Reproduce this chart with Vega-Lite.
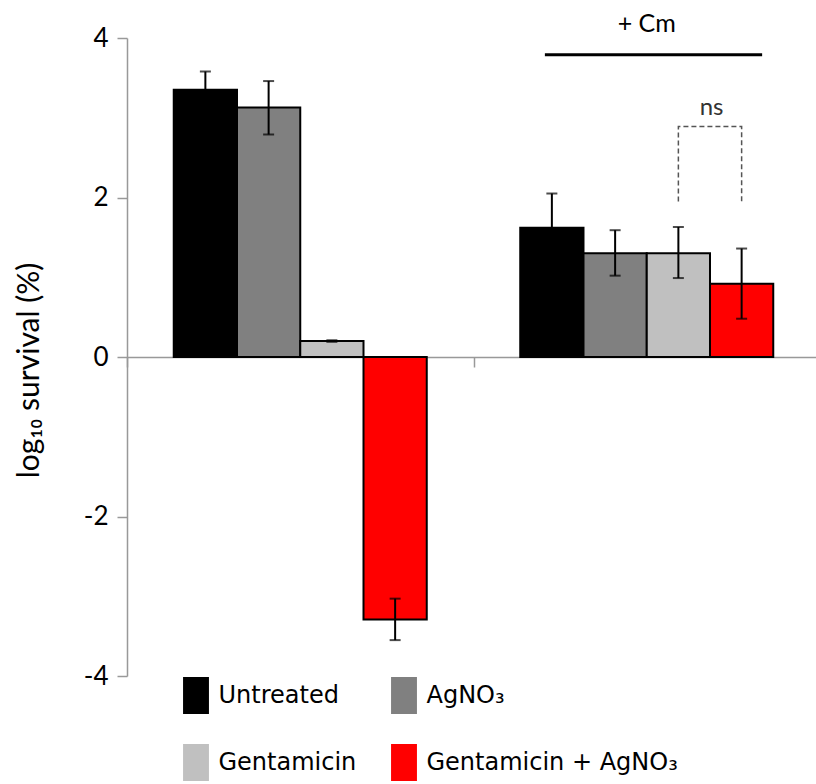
{
  "$schema": "https://vega.github.io/schema/vega-lite/v6.json",
  "width": 689,
  "height": 638,
  "autosize": "none",
  "padding": {"left": 127, "top": 38, "right": 0, "bottom": 108},
  "config": {"view": {"stroke": null}, "font": "Lato"},
  "datasets": {
    "bars": [
      {"group": "no Cm", "treatment": "Untreated", "value": 3.35, "lo": 3.12, "hi": 3.58},
      {"group": "no Cm", "treatment": "AgNO₃", "value": 3.13, "lo": 2.79, "hi": 3.46},
      {"group": "no Cm", "treatment": "Gentamicin", "value": 0.2, "lo": 0.19, "hi": 0.21},
      {"group": "no Cm", "treatment": "Gentamicin + AgNO₃", "value": -3.29, "lo": -3.55, "hi": -3.03},
      {"group": "+ Cm", "treatment": "Untreated", "value": 1.62, "lo": 1.19, "hi": 2.05},
      {"group": "+ Cm", "treatment": "AgNO₃", "value": 1.3, "lo": 1.02, "hi": 1.59},
      {"group": "+ Cm", "treatment": "Gentamicin", "value": 1.3, "lo": 0.99, "hi": 1.63},
      {"group": "+ Cm", "treatment": "Gentamicin + AgNO₃", "value": 0.92, "lo": 0.48, "hi": 1.36}
    ],
    "bracket": [
      {"group": "+ Cm", "treatment": "Gentamicin", "y": 1.95, "k": 1},
      {"group": "+ Cm", "treatment": "Gentamicin", "y": 2.89, "k": 2},
      {"group": "+ Cm", "treatment": "Gentamicin + AgNO₃", "y": 2.89, "k": 3},
      {"group": "+ Cm", "treatment": "Gentamicin + AgNO₃", "y": 1.95, "k": 4}
    ]
  },
  "encoding": {
    "x": {
      "field": "group", "type": "nominal", "sort": ["no Cm", "+ Cm"],
      "scale": {"range": [0, 693], "paddingInner": 0, "paddingOuter": 0},
      "axis": {"orient": "bottom", "offset": -319, "title": null, "labels": false, "tickBand": "extent", "tickSize": 10, "tickColor": "#999999", "tickWidth": 1.5, "domainColor": "#999999", "domainWidth": 1.5, "grid": false}
    },
    "xOffset": {
      "field": "treatment", "type": "nominal",
      "sort": ["Untreated", "AgNO₃", "Gentamicin", "Gentamicin + AgNO₃"],
      "scale": {"paddingOuter": 0.739, "paddingInner": 0}
    }
  },
  "layer": [
    {
      "data": {"name": "bars"},
      "mark": {"type": "bar", "stroke": "#000000", "strokeWidth": 2},
      "encoding": {
        "y": {
          "field": "value", "type": "quantitative",
          "scale": {"domain": [-4, 4], "nice": false},
          "axis": {"values": [-4, -2, 0, 2, 4], "labelExpr": "'' + datum.value", "title": "log₁₀ survival (%)", "grid": false, "tickSize": 10, "tickColor": "#999999", "tickWidth": 1.5, "domainColor": "#999999", "domainWidth": 1.5, "labelFontSize": 26, "labelColor": "#000000", "labelPadding": 9, "titleFontSize": 30, "titleFontWeight": "normal", "titleColor": "#000000", "titleX": -83, "titleY": 332}
        },
        "color": {
          "field": "treatment", "type": "nominal",
          "scale": {"domain": ["Untreated", "AgNO₃", "Gentamicin", "Gentamicin + AgNO₃"], "range": ["#000000", "#808080", "#c0c0c0", "#ff0000"]},
          "legend": {"orient": "none", "direction": "horizontal", "legendX": 50.5, "legendY": 639, "columns": 2, "title": null, "symbolType": "M-0.7,-1H0.7V1H-0.7Z", "symbolSize": 1369, "symbolStrokeWidth": 0, "symbolOpacity": 1, "labelFontSize": 24, "labelFont": "DejaVu Sans", "labelColor": "#000000", "labelOffset": 4, "rowPadding": 30, "columnPadding": 29, "labelLimit": 400}
        }
      }
    },
    {
      "data": {"name": "bars"},
      "mark": {"type": "rule", "color": "#000000", "strokeWidth": 2},
      "encoding": {"y": {"field": "lo", "type": "quantitative"}, "y2": {"field": "hi"}}
    },
    {
      "data": {"name": "bars"},
      "mark": {"type": "tick", "color": "#000000", "thickness": 2, "size": 11},
      "encoding": {"y": {"field": "lo", "type": "quantitative"}}
    },
    {
      "data": {"name": "bars"},
      "mark": {"type": "tick", "color": "#000000", "thickness": 2, "size": 11},
      "encoding": {"y": {"field": "hi", "type": "quantitative"}}
    },
    {
      "data": {"name": "bracket"},
      "mark": {"type": "line", "color": "#555555", "strokeWidth": 1.5, "strokeDash": [5, 3]},
      "encoding": {"y": {"field": "y", "type": "quantitative"}, "order": {"field": "k", "type": "quantitative"}}
    },
    {
      "data": {"values": [{}]},
      "mark": {"type": "rule", "color": "#000000", "strokeWidth": 3},
      "encoding": {
        "x": {"datum": "+ Cm", "bandPosition": 0.206},
        "x2": {"datum": "+ Cm", "bandPosition": 0.833},
        "xOffset": null,
        "y": {"datum": 3.79}
      }
    },
    {
      "data": {"values": [{}]},
      "mark": {"type": "text", "fontSize": 25, "color": "#000000"},
      "encoding": {
        "x": {"datum": "+ Cm", "bandPosition": 0.5},
        "xOffset": null,
        "y": {"datum": 4.18},
        "text": {"value": "+ Cm"}
      }
    },
    {
      "data": {"values": [{}]},
      "mark": {"type": "text", "fontSize": 24, "color": "#333333"},
      "encoding": {
        "x": {"datum": "+ Cm", "bandPosition": 0.687},
        "xOffset": null,
        "y": {"datum": 3.12},
        "text": {"value": "ns"}
      }
    }
  ]
}
